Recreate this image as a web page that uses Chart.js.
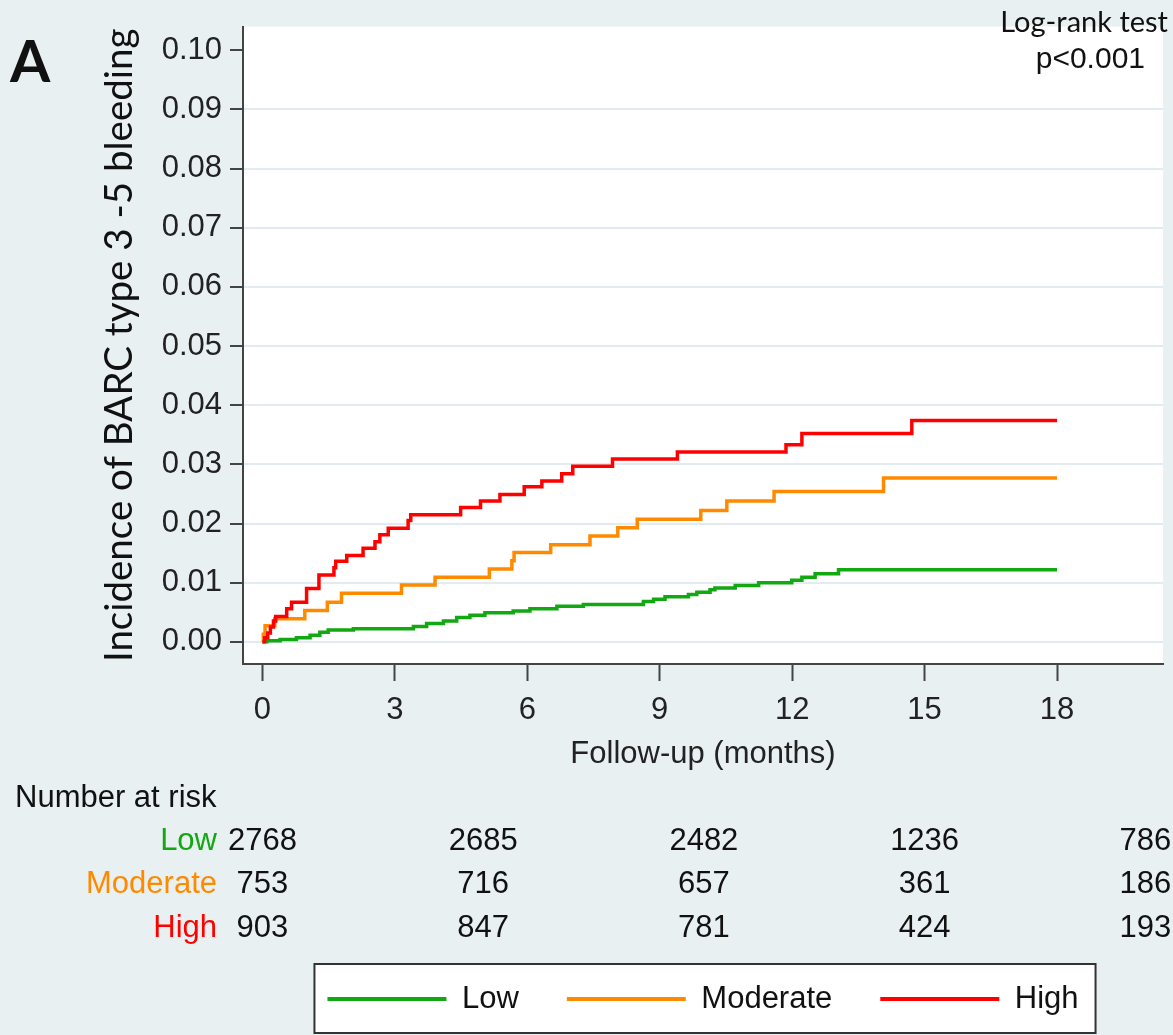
<!DOCTYPE html>
<html>
<head>
<meta charset="utf-8">
<script src="https://cdn.jsdelivr.net/npm/chart.js@4.4.1/dist/chart.umd.min.js"></script>
<style>
html, body { margin: 0; padding: 0; background: #e9f0f2; }
canvas { display: block; }
</style>
</head>
<body>
<canvas id="kmChart" width="1173" height="1035"></canvas>
<script>
// Groups
const groupNames = ['Low', 'Moderate', 'High'];
const groupColors = ['#12a812', '#ff8a00', '#ff0000'];

// Cumulative incidence, step points (months, incidence)
const lowTimes = [0, 0.10, 0.40, 0.77, 1.08, 1.30, 1.49, 2.06, 3.42, 3.72, 4.10, 4.40, 4.70, 5.04, 5.68, 6.06, 6.67, 7.27, 8.63, 8.86, 9.12, 9.65, 9.84, 10.14, 10.25, 10.71, 11.24, 11.99, 12.22, 12.52, 13.05, 18];
const lowValues = [0, 0.0002, 0.0004, 0.0007, 0.0011, 0.0016, 0.0020, 0.0022, 0.0026, 0.0031, 0.0035, 0.0041, 0.0045, 0.0049, 0.0052, 0.0056, 0.0060, 0.0063, 0.0068, 0.0072, 0.0076, 0.0080, 0.0084, 0.0088, 0.0091, 0.0095, 0.0100, 0.0104, 0.0109, 0.0115, 0.0122, 0.0122];

const modTimes = [0, 0.02, 0.06, 0.28, 0.96, 1.47, 1.79, 3.15, 3.91, 5.14, 5.65, 5.70, 6.53, 7.42, 8.05, 8.49, 9.93, 10.52, 11.59, 14.07, 18];
const modValues = [0, 0.0013, 0.0027, 0.0039, 0.0053, 0.0067, 0.0082, 0.0096, 0.0109, 0.0123, 0.0137, 0.0151, 0.0164, 0.0179, 0.0193, 0.0207, 0.0222, 0.0238, 0.0254, 0.0277, 0.0277];

const highTimes = [0, 0.05, 0.12, 0.18, 0.25, 0.30, 0.55, 0.66, 1.00, 1.28, 1.62, 1.66, 1.91, 2.28, 2.55, 2.66, 2.85, 3.30, 3.36, 4.49, 4.94, 5.38, 5.93, 6.33, 6.78, 7.03, 7.93, 9.40, 11.86, 12.22, 14.71, 18];
const highValues = [0, 0.0007, 0.0015, 0.0025, 0.0035, 0.0043, 0.0056, 0.0067, 0.0090, 0.0113, 0.0125, 0.0136, 0.0146, 0.0158, 0.0169, 0.0181, 0.0192, 0.0205, 0.0215, 0.0227, 0.0238, 0.0249, 0.0262, 0.0272, 0.0284, 0.0297, 0.0309, 0.0321, 0.0333, 0.0352, 0.0374, 0.0374];

// Axis ticks
const xTicks = [0, 3, 6, 9, 12, 15, 18];
const yTicks = [0, 0.01, 0.02, 0.03, 0.04, 0.05, 0.06, 0.07, 0.08, 0.09, 0.10];

// Number at risk
const riskTimes = [0, 5, 10, 15, 20];
const riskLow = [2768, 2685, 2482, 1236, 786];
const riskModerate = [753, 716, 657, 361, 186];
const riskHigh = [903, 847, 781, 424, 193];

const sans = "'Liberation Sans', Arial, sans-serif";
const series = [[lowTimes, lowValues], [modTimes, modValues], [highTimes, highValues]];
const riskRows = [riskLow, riskModerate, riskHigh];

const decor = {
  id: 'decor',
  beforeDraw(chart) {
    const {ctx, chartArea: a, width, height} = chart;
    ctx.save();
    ctx.fillStyle = '#e9f0f2';
    ctx.fillRect(0, 0, width, height);
    ctx.fillStyle = '#ffffff';
    ctx.fillRect(a.left, a.top, a.right - a.left, a.bottom - a.top);
    // frame around legend
    const boxes = chart.legend.legendHitBoxes;
    if (boxes && boxes.length) {
      const first = boxes[0], last = boxes[boxes.length - 1];
      const cy = first.top + first.height / 2;
      const x0 = first.left - 13, x1 = last.left + last.width + 17;
      ctx.fillRect(x0, cy - 35, x1 - x0, 69);
      ctx.strokeStyle = '#333';
      ctx.lineWidth = 2;
      ctx.strokeRect(x0, cy - 35, x1 - x0, 69);
    }
    ctx.restore();
  },
  afterDraw(chart) {
    const {ctx} = chart;
    const xs = chart.scales.x;
    ctx.save();
    ctx.textBaseline = 'middle';
    ctx.font = '31px ' + sans;
    ctx.fillStyle = '#111';
    ctx.textAlign = 'left';
    ctx.fillText('Number at risk', 15, 798);
    riskRows.forEach((row, i) => {
      const y = 841 + i * 43.5;
      ctx.textAlign = 'right';
      ctx.fillStyle = groupColors[i];
      ctx.fillText(groupNames[i], 217, y);
      ctx.textAlign = 'center';
      ctx.fillStyle = '#111';
      row.forEach((n, j) => ctx.fillText(String(n), xs.getPixelForValue(riskTimes[j]), y));
    });

    ctx.textBaseline = 'alphabetic';
    ctx.textAlign = 'left';
    ctx.font = 'bold 58px Lato';
    ctx.fillText('A', 10, 82);
    ctx.textAlign = 'right';
    ctx.font = '29px Lato';
    ctx.fillText('Log-rank test', 1168, 32);
    ctx.font = '30px ' + sans;
    ctx.fillText('p<0.001', 1145, 68);
    ctx.restore();
  }
};

const config = {
  type: 'line',
  data: {
    datasets: groupNames.map((name, i) => ({
      label: name,
      data: series[i][0].map((t, j) => ({x: t, y: series[i][1][j]})),
      borderColor: groupColors[i],
      backgroundColor: groupColors[i],
      borderWidth: 3.5,
      pointRadius: 0,
      stepped: true,
      fill: false,
      order: 2 - i
    }))
  },
  options: {
    responsive: false,
    animation: false,
    layout: { padding: { top: 23, right: 10, bottom: 10.5, left: 0 } },
    scales: {
      x: {
        type: 'linear',
        min: -0.44,
        max: 20.4,
        afterBuildTicks: s => { s.ticks = xTicks.map(v => ({value: v})); },
        afterFit: s => { s.height = 271.5; },
        grid: { drawOnChartArea: false, tickLength: 17, tickColor: '#444', tickWidth: 2 },
        border: { color: '#444', width: 2 },
        ticks: { font: {family: sans, size: 31}, color: '#222', padding: 11, maxRotation: 0, callback: v => String(v) },
        title: { display: true, text: 'Follow-up (months)', color: '#222',
                 font: {family: sans, size: 31, lineHeight: 1.2}, padding: {top: 0, bottom: 162} }
      },
      y: {
        type: 'linear',
        min: -0.00375,
        max: 0.104,
        afterBuildTicks: s => { s.ticks = yTicks.map(v => ({value: v})); },
        afterFit: s => { s.width = 243; },
        grid: {
          color: c => (c.tick && c.tick.value >= 0.1) ? 'rgba(0,0,0,0)' : '#e2ebef',
          lineWidth: 2, tickLength: 13, tickColor: '#444', tickWidth: 2
        },
        border: { color: '#444', width: 2 },
        ticks: { font: {family: sans, size: 31}, color: '#222', padding: 8, callback: v => v.toFixed(2) },
        title: { display: true, text: 'Incidence of BARC type 3 -5 bleeding', color: '#111',
                 font: {family: 'Lato', size: 38.5, lineHeight: 1.2}, padding: {top: 96, bottom: 0} }
      }
    },
    plugins: {
      tooltip: { enabled: false },
      legend: {
        position: 'bottom',
        fullSize: false,
        labels: {
          boxWidth: 119,
          boxHeight: 4,
          padding: 48,
          color: '#111',
          font: {family: sans, size: 31},
          sort: (a, b) => a.datasetIndex - b.datasetIndex,
          generateLabels: chart => Chart.defaults.plugins.legend.labels.generateLabels(chart)
            .map(item => Object.assign(item, {lineWidth: 0}))
        }
      }
    }
  },
  plugins: [decor]
};

const kmChart = new Chart(document.getElementById('kmChart'), config);
</script>
</body>
</html>
